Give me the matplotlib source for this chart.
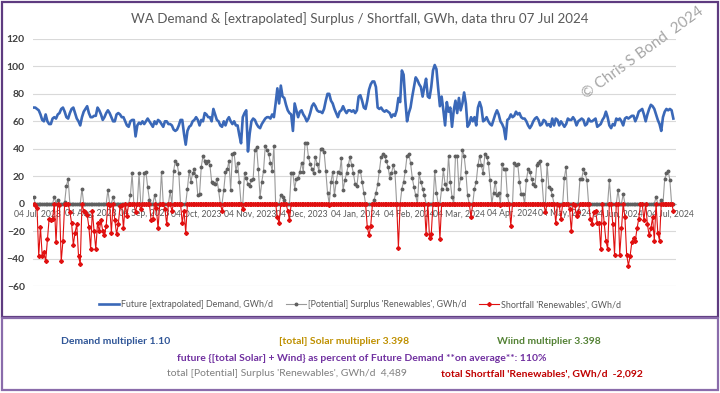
import numpy as np
import pandas as pd
import matplotlib
matplotlib.use('Agg')
import matplotlib.pyplot as plt
import matplotlib.dates as mdates
from matplotlib.patches import Rectangle

plt.rcParams['font.family'] = ['Lato', 'DejaVu Sans']

# daily values, 02 Jul 2023 .. 07 Jul 2024
demand = [
    70, 70, 69, 68, 65, 61, 60, 65, 60, 58, 58, 62, 63, 62, 65, 66, 69, 70, 67,
    63, 62, 66, 69, 70, 66, 62, 60, 57, 63, 67, 69, 71, 66, 63, 63, 64, 64, 70, 68,
    65, 61, 63, 66, 68, 66, 63, 60, 60, 65, 66, 65, 63, 63, 60, 57, 56, 60, 61,
    61, 49, 57, 59, 58, 60, 58, 60, 62, 60, 58, 56, 60, 58, 61, 60, 58, 56, 60,
    60, 58, 58, 57, 54, 53, 54, 57, 61, 61, 51, 43, 53, 56, 57, 60, 61, 63, 61,
    57, 61, 60, 66, 65, 63, 63, 60, 69, 65, 61, 60, 57, 56, 60, 57, 61, 63, 60,
    58, 60, 57, 57, 50, 44, 63, 66, 68, 38, 51, 60, 62, 61, 58, 56, 55, 58, 60, 62,
    63, 63, 62, 65, 63, 73, 84, 73, 86, 78, 77, 72, 68, 66, 65, 53, 73, 68, 63, 67,
    68, 65, 63, 60, 62, 66, 71, 73, 71, 68, 67, 67, 66, 69, 75, 80, 80, 75, 73,
    69, 66, 63, 67, 68, 71, 68, 66, 68, 68, 67, 68, 66, 68, 78,
    79, 75, 70, 69, 75, 83, 87, 89, 89, 85, 70, 69, 70, 68, 67, 68, 67, 66, 63,
    65, 64, 68, 77, 74, 97, 94, 75, 60, 66, 70, 78, 85, 92, 90, 87, 85, 78, 85, 91,
    78, 77, 85, 97, 101, 98, 84, 71, 78, 68, 57, 74, 67, 70, 56, 68, 75, 66, 77, 68,
    73, 81, 73, 56, 58, 63, 60, 63, 57, 70, 74, 70, 60, 61, 63, 60, 58, 57, 61,
    65, 68, 65, 60, 58, 55, 47, 61, 62, 65, 63, 64, 67, 65, 66, 63, 62, 62, 60,
    57, 55, 57, 60, 62, 63, 61, 57, 58, 61, 60, 57, 58, 56, 62, 57, 62, 61, 57,
    60, 58, 56, 58, 62, 61, 61, 63, 61, 57, 60, 61, 62, 61, 57, 58, 62, 60,
    60, 61, 62, 56, 57, 58, 61, 63, 67, 63, 57, 55, 58, 57, 62, 61, 62, 60, 57,
    62, 63, 62, 63, 64, 64, 60, 63, 67, 68, 69, 65, 60, 65, 69, 72, 71, 69, 65, 61,
    58, 53, 63, 67, 69, 68, 69, 68, 62,
]

# renewables minus demand: positive = surplus, negative = shortfall
net = [
    5, -1, -3, -38, -17, -38, -35, -42, -26, -11, -12, -11, 5, -28, 3, -1, -42, -27,
    1, 13, 18, -6, -14, -30, -21, -15, -38, -44, 11, -5, -6, -8, -17, -33, -5, -20,
    -33, -14, -20, -12, -20, -23, -16, 10, -1, -21, 5, -12, -22, -15, -2, -1,
    -18, 0, -9, 0, 6, 22, 0, -6, 0, 22, -4, 0, 22, 23, 12, 3, -12, -11, 6, -3,
    -18, 0, 23, 0, -4, -15, 0, 9, -5, 24, 31, 29, 22, 0, -14, -5, -21, 11, 24, 16,
    22, 25, 20, 6, 7, 27, 35, 31, 30, 31, 28, 16, 15,
    14, 18, 10, 0, -5, 10, 23, 25, 31, 10, 36, 37, 24, 30, 16, 0, -4, 22, 19, 14,
    13, 17, 18, 39, 41, 25, 5, 16, 24, 42, 39, 36, 30, 24, 42, 0, -10, -14, 6, 5,
    3, 0, -5, -12, 22, 22, 11, 18, 19, 23, 30, 23, 44,
    44, 34, 29, 25, 22, 34, 29, 24, 40, 40, 38, 24, 8, -1, 16, 23, 6, 16, 23, 22,
    33, 10, 17, 22, 28, 34, 28, 22, 14, 13, 24, 24, 16, 8, 0, -17, -23, -16, 0, 3,
    8, 14, 24, 34, 36, 35, 31, 27, 19, 22, 28, 23, 0,
    -32, 0, 11, 16, 24, 35, 36, 30, 19, 12, 6, 0, 22, 16, 11, 6, -22, 0, -25, -22,
    0, 24, 8, 0, -26, 11, 25, 14, 11, 35, 16, 5, 0, 35, 35, 11, 19, 39, 35, 23,
    6, 0, -10, 0, 11, 16, 28, 35, 28, 22, 36, 34, 30,
    17, 0, 8, 16, 6, 8, -1, 29, 25, 25, 6, 0, -16, 0, 30, 28, 29, 16, 7, 7,
    0, 17, 25, 23, 18, 14, 13, 28, 30, 31, 17, 0, -6, 29, 12, 11, 6, 0, -14, 0,
    -1, -11, 0, 19, 27, 0, -4, -20, 0, -1, -9, -6, 18,
    18, 25, 22, 17, 0, -11, -15, -6, -5, -14, -14, -33, 0, -14, -27, -33, 17, 0,
    -15, -37, 0, 10, -37, -18, 7, -10, -37, -45, -38, -28, -25, -27, -18, -11, 0, 0,
    -12, 0, -15, -23, -18, -10, -27, 5, -21, -27, 3, 0, 18, 22, 24, 17, 0, -5,
]

start_date = '2023-07-02'
tick_dates = ['2023-07-04', '2023-08-04', '2023-09-04', '2023-10-04', '2023-11-04',
              '2023-12-04', '2024-01-04', '2024-02-04', '2024-03-04', '2024-04-04',
              '2024-05-04', '2024-06-04', '2024-07-04']
y_ticks = [-60, -40, -20, 0, 20, 40, 60, 80, 100, 120]

title = 'WA Demand & [extrapolated] Surplus / Shortfall, GWh, data thru 07 Jul 2024'
series_names = ["Future [extrapolated] Demand, GWh/d",
                "[Potential] Surplus 'Renewables', GWh/d",
                "Shortfall 'Renewables', GWh/d"]

dates = pd.date_range(start_date, periods=len(demand), freq='D')
net = np.array(net, dtype=float)
surplus = np.where(net > 0, net, 0)
shortfall = np.where(net < 0, net, 0)

fig = plt.figure(figsize=(7.2, 3.93), dpi=100)
ax = fig.add_axes([0.046, 0.272, 0.893, 0.629])

ax.plot(dates, demand, color='#3a68b8', lw=1.9, label=series_names[0], zorder=3)
ax.plot(dates, surplus, color='#9a9a9a', lw=0.8, marker='o', ms=1.8,
        mfc='#606060', mec='#606060', label=series_names[1], zorder=4)
ax.plot(dates, shortfall, color='#e01010', lw=0.8, marker='D', ms=2.0,
        mfc='#e01010', mec='#e01010', label=series_names[2], zorder=5)

ax.set_ylim(-60, 120)
ax.set_yticks(y_ticks)
ax.set_xlim(pd.Timestamp('2023-07-01 18:00'), pd.Timestamp('2024-07-07 14:00'))
ax.set_xticks(pd.to_datetime(tick_dates))
ax.xaxis.set_major_formatter(mdates.DateFormatter('%d %b, %Y'))

ax.grid(axis='y', color='#d9d9d9', lw=0.8)
ax.set_axisbelow(True)
for s in ['top', 'right', 'left']:
    ax.spines[s].set_visible(False)
ax.spines['bottom'].set_position(('data', 0))
ax.spines['bottom'].set_color('#bfbfbf')
ax.tick_params(axis='x', length=0, pad=4, labelsize=6.2, labelcolor='#595959')
ax.tick_params(axis='y', length=0, pad=6, labelsize=7.5, labelcolor='#404040')
for lab in ax.get_yticklabels():
    lab.set_fontweight('bold')

fig.legend(loc='center', bbox_to_anchor=(0.5, 0.224), ncol=3, frameon=False,
           fontsize=6.4, labelcolor='#595959', handlelength=2.3, columnspacing=1.4,
           handletextpad=0.2)

fig.text(0.5, 0.953, title, ha='center', va='center', fontsize=9.6, color='#595959')
fig.text(0.893, 0.866, '\u00a9 Chris S Bond  2024', rotation=36, ha='center',
         va='center', fontsize=11, color='#a6a6a6')

# panel frames
fig.patches.append(Rectangle((0.003, 0.194), 0.994, 0.800, transform=fig.transFigure,
                             fill=False, ec='#5e3b80', lw=1.6))
fig.patches.append(Rectangle((0.003, 0.007), 0.994, 0.183, transform=fig.transFigure,
                             fill=False, ec='#8a6cab', lw=1.6))

# summary text under the chart
fig.text(0.161, 0.130, 'Demand multiplier 1.10', ha='center', va='center',
         fontsize=7.5, color='#2f5597', fontweight='bold')
fig.text(0.478, 0.130, '[total] Solar multiplier 3.398', ha='center', va='center',
         fontsize=7.5, color='#bf9000', fontweight='bold')
fig.text(0.763, 0.130, 'Wiind multiplier 3.398', ha='center', va='center',
         fontsize=7.5, color='#548235', fontweight='bold')
fig.text(0.503, 0.089, 'future {[total Solar] + Wind} as percent of Future Demand **on average**: 110%',
         ha='center', va='center', fontsize=7.5, color='#7030a0', fontweight='bold')
fig.text(0.398, 0.049, "total [Potential] Surplus 'Renewables', GWh/d  4,489", ha='center',
         va='center', fontsize=7.5, color='#7f7f7f')
fig.text(0.752, 0.049, "total Shortfall 'Renewables', GWh/d  -2,092", ha='center',
         va='center', fontsize=7.5, color='#c00000', fontweight='bold')

fig.savefig('out.png', dpi=100)
